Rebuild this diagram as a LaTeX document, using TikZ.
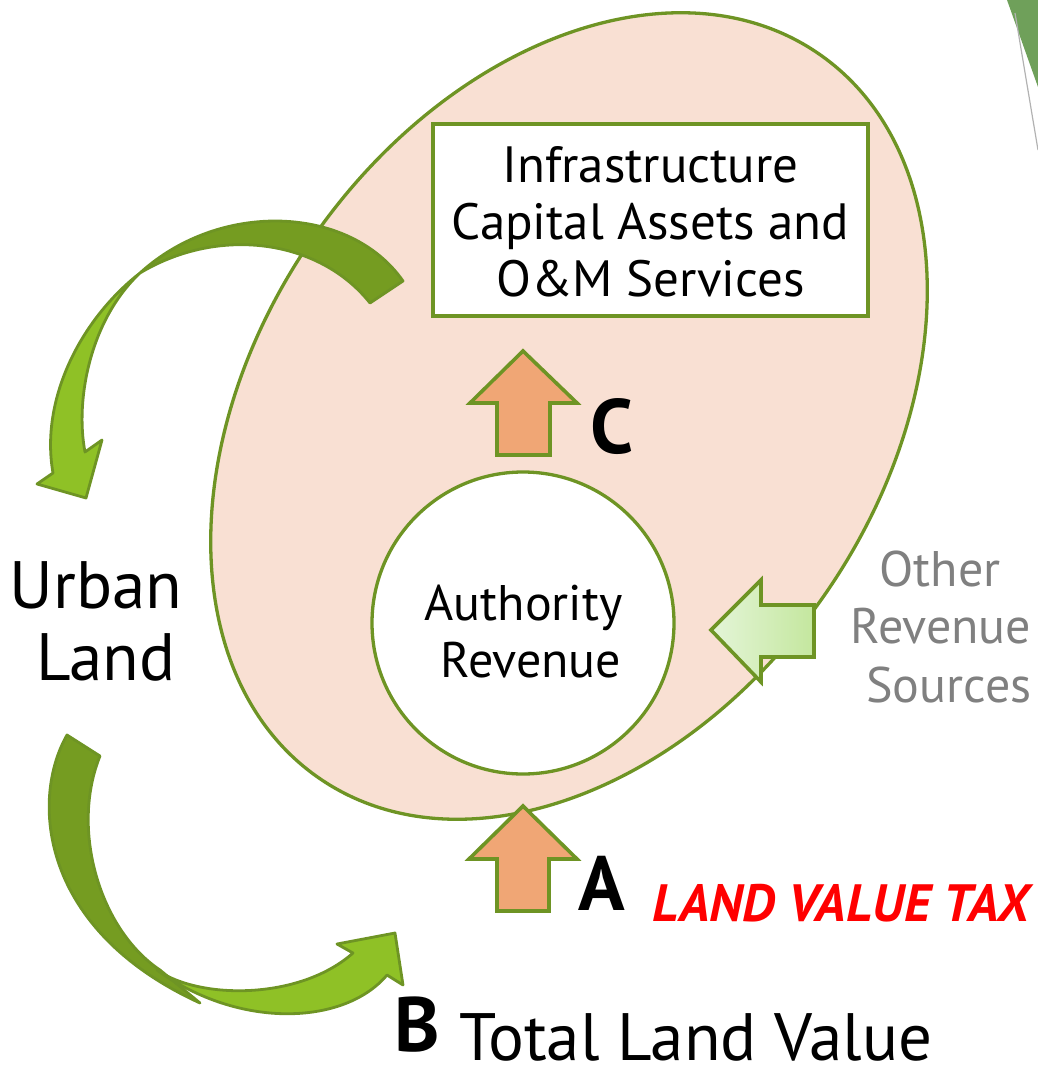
\documentclass[tikz,border=0pt]{standalone}
\usepackage{fontspec}
\setmainfont{PT Sans}
\usetikzlibrary{shapes.geometric}
\definecolor{edge}{HTML}{6E9424}
\definecolor{peach}{HTML}{F9E0D3}
\definecolor{orangeA}{HTML}{F0A675}
\definecolor{darkleaf}{HTML}{759C21}
\definecolor{lightleaf}{HTML}{8FC126}
\definecolor{paleA}{HTML}{E4F5D8}
\definecolor{paleB}{HTML}{C4E79E}
\definecolor{greytxt}{HTML}{808080}
\definecolor{slidegreen}{HTML}{6FA05A}
\tikzset{
  zone/.style={ellipse, draw=edge, line width=3.3, fill=peach, inner sep=0, outer sep=0},
  box/.style={draw=edge, line width=3.3, fill=white, inner sep=0, outer sep=0},
  upar/.style={draw=edge, line width=3.6, fill=orangeA, line join=miter},
  sidear/.style={draw=edge, line width=3.6, left color=paleA, right color=paleB, line join=miter},
  bandback/.style={draw=edge, line width=2.8, fill=darkleaf, line join=round},
  bandfront/.style={draw=edge, line width=2.8, fill=lightleaf, line join=round},
  txt/.style={inner sep=0, outer sep=0, anchor=base},
  boxtxt/.style={txt, font=\fontsize{51}{57}\selectfont},
  bigtxt/.style={txt, font=\fontsize{67}{72}\selectfont},
  lettertxt/.style={txt, font=\fontsize{77}{80}\selectfont\bfseries},
  greytext/.style={txt, text=greytxt, font=\fontsize{50}{55}\selectfont},
}
\begin{document}
\begin{tikzpicture}[x=1pt,y=-1pt]
\useasboundingbox (0,0) rectangle (1038,1071);

% slide decoration top right
\fill[slidegreen] (1007,0) -- (1038,0) -- (1038,87) -- cycle;
\draw[gray!60, line width=1.2] (1015,13) -- (1038,150);

% big ellipse
\node[zone, rotate=55.4, minimum width=880, minimum height=624] (zone) at (569,416) {};

% infrastructure box
\node[box, minimum width=435, minimum height=192] (infra) at (650.5,220) {};
\node[boxtxt] (t1) at (650.5,182) {Infrastructure};
\node[boxtxt] (t2) at (650.5,239) {Capital Assets and};
\node[boxtxt] (t3) at (650.5,296) {O\&M Services};

% authority revenue circle
\node[circle, draw=edge, line width=3.3, fill=white, minimum size=302, inner sep=0] (rev) at (523,623) {};
\node[txt, font=\fontsize{50}{57}\selectfont] (r1) at (523.5,620) {Authority};
\node[txt, font=\fontsize{50}{57}\selectfont] (r2) at (531,677) {Revenue};

% arrow C
\coordinate (ctip) at (523,351);
\draw[upar] (ctip) -- (577,403) -- (550,403) -- (550,455) -- (497,455) -- (497,403) -- (470,403) -- cycle;
\node[lettertxt] (lc) at (612,453) {C};

% arrow A
\coordinate (atip) at (523,806);
\draw[upar] (atip) -- (577,859) -- (549,859) -- (549,911) -- (497,911) -- (497,859) -- (469,859) -- cycle;
\node[lettertxt] (la) at (602,910) {A};
\node[txt, text=red, font=\fontsize{52.5}{55}\selectfont\bfseries\itshape] (lvt) at (841,921) {LAND VALUE TAX};

% other revenue arrow
\coordinate (otip) at (711,630);
\draw[sidear] (otip) -- (761,580) -- (761,605) -- (814,605) -- (814,657) -- (761,657) -- (761,682) -- cycle;
\node[greytext] (o1) at (940,586) {Other};
\node[greytext] (o2) at (941,643) {Revenue};
\node[greytext] (o3) at (949,702) {Sources};

% top curved arrow
\draw[bandback] (403,281) .. controls (350,205) and (220,200) .. (140,273)
   .. controls (220,225) and (320,240) .. (370,303) -- cycle;
\draw[bandfront] (140,273) .. controls (80,320) and (40,400) .. (53,473)
   -- (37,484) -- (86,498) -- (102,440) -- (85,452)
   .. controls (75,400) and (90,320) .. (140,273) -- cycle;

% bottom curved arrow
\draw[bandback] (67,735) .. controls (30,800) and (40,930) .. (200,1003)
   -- (160,970) .. controls (100,930) and (70,830) .. (100,756) -- cycle;
\draw[bandfront] (157,970) .. controls (200,1000) and (300,1000) .. (353,953)
   -- (337,944) -- (395,933) -- (403,985) -- (387,975)
   .. controls (345,1025) and (240,1030) .. (157,970) -- cycle;

% labels
\node[bigtxt] (u1) at (96,608) {Urban};
\node[bigtxt] (u2) at (106,680) {Land};
\node[lettertxt] (lb) at (417,1051) {B};
\node[bigtxt] (tlv) at (696,1060) {Total Land Value};
\end{tikzpicture}
\end{document}
